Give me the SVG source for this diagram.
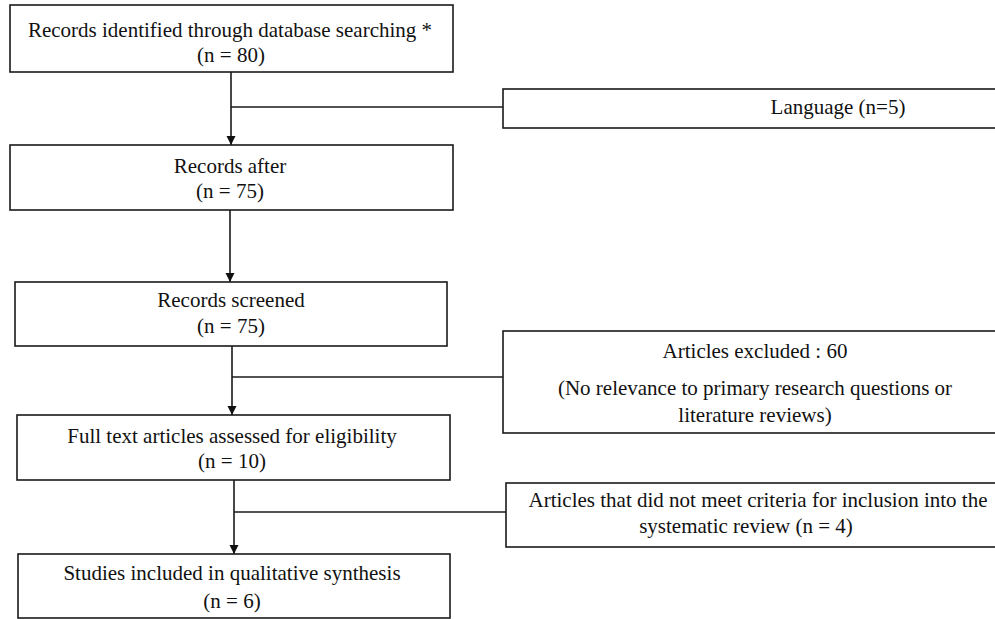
<svg xmlns="http://www.w3.org/2000/svg" width="995" height="619" viewBox="0 0 995 619">
<style>
.box{fill:#fff;stroke:#1a1a1a;stroke-width:1.6}
.t{font-family:"Liberation Serif","Times New Roman",serif;font-size:21px;fill:#111;text-anchor:middle}
.c{fill:none;stroke:#1a1a1a;stroke-width:1.6}
</style>
<defs>
<marker id="ah" markerUnits="userSpaceOnUse" markerWidth="10" markerHeight="10" refX="9" refY="5" orient="auto">
<path d="M0,0.5 L9,5 L0,9.5 Z" fill="#111"/>
</marker>
</defs>
<rect width="995" height="619" fill="#fff"/>
<g id="connectors">
<line class="c" x1="231" y1="72" x2="231" y2="145" marker-end="url(#ah)"/>
<line class="c" x1="231" y1="107" x2="503" y2="107"/>
<line class="c" x1="230" y1="210" x2="230" y2="282" marker-end="url(#ah)"/>
<line class="c" x1="232" y1="346" x2="232" y2="415" marker-end="url(#ah)"/>
<line class="c" x1="232" y1="377" x2="503" y2="377"/>
<line class="c" x1="234" y1="480" x2="234" y2="554" marker-end="url(#ah)"/>
<line class="c" x1="234" y1="512" x2="506" y2="512"/>
</g>
<g id="n1">
<rect class="box" x="10" y="5" width="443" height="67"/>
<text class="t" x="230" y="37">Records identified through database searching *</text>
<text class="t" x="231" y="62">(n = 80)</text>
</g>
<g id="n_language">
<rect class="box" x="503" y="89" width="520" height="39"/>
<text class="t" x="838" y="114">Language (n=5)</text>
</g>
<g id="n2">
<rect class="box" x="10" y="145" width="443" height="65"/>
<text class="t" x="230" y="173">Records after</text>
<text class="t" x="230" y="198">(n = 75)</text>
</g>
<g id="n3">
<rect class="box" x="15" y="282" width="432" height="64"/>
<text class="t" x="231" y="307">Records screened</text>
<text class="t" x="231" y="333">(n = 75)</text>
</g>
<g id="n_excluded">
<rect class="box" x="503" y="331" width="520" height="102"/>
<text class="t" x="755" y="358">Articles excluded : 60</text>
<text class="t" x="755" y="395">(No relevance to primary research questions or</text>
<text class="t" x="755" y="422">literature reviews)</text>
</g>
<g id="n4">
<rect class="box" x="17" y="415" width="433" height="65"/>
<text class="t" x="232" y="443">Full text articles assessed for eligibility</text>
<text class="t" x="232" y="468">(n = 10)</text>
</g>
<g id="n_notmeet">
<rect class="box" x="506" y="483" width="520" height="64"/>
<text class="t" x="758" y="507">Articles that did not meet criteria for inclusion into the</text>
<text class="t" x="746" y="533">systematic review (n = 4)</text>
</g>
<g id="n5">
<rect class="box" x="18" y="554" width="432" height="64"/>
<text class="t" x="232" y="580">Studies included in qualitative synthesis</text>
<text class="t" x="232" y="608">(n = 6)</text>
</g>
</svg>
